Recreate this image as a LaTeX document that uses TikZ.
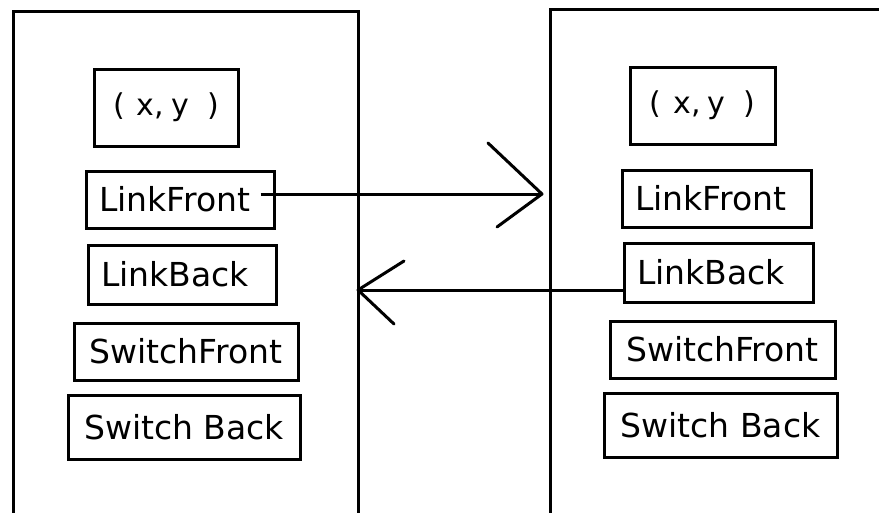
\documentclass[tikz,border=0pt]{standalone}
\usepackage{fontspec}
\setmainfont{DejaVu Sans}
\begin{document}
\begin{tikzpicture}[x=1pt,y=-1pt,line width=3pt,
  bigbox/.style={draw, line width=3pt, inner sep=0pt, anchor=north west},
  box/.style={draw, line width=3pt, inner sep=0pt, font=\fontsize{33}{38}\selectfont},
  lbox/.style={box, align=left, inner xsep=13pt, inner ysep=0pt},
  xybox/.style={box, font=\fontsize{30}{36}\selectfont},
  conn/.style={line width=3pt},
  head/.style={line width=3pt, line cap=round, line join=round}]
\useasboundingbox (0,0) rectangle (879,512);
\fill[white] (0,0) rectangle (879,512);
\begin{scope}
\clip (0,0) rectangle (879,512);
% big boxes
\node[bigbox, minimum width=345pt, minimum height=530pt] (L) at (12,10) {};
\node[bigbox, minimum width=345pt, minimum height=505.5pt] (R) at (549,7.5) {};
\end{scope}
% left inner boxes
\node[xybox, minimum width=144pt, minimum height=77pt] (XY1) at (166,107.5) {(\hspace{12pt}x,\hspace{7pt}y\hspace{18pt})};
\node[lbox, text width=162pt, minimum height=57pt] (LF1) at (180,199.5) {LinkFront};
\node[lbox, text width=162pt, minimum height=59pt] (LB1) at (182,274.5) {LinkBack};
\node[box, minimum width=224pt, minimum height=57pt] (SF1) at (186,351.5) {SwitchFront};
\node[box, minimum width=232pt, minimum height=64pt] (SB1) at (184,427) {Switch Back};
% right inner boxes
\node[xybox, minimum width=145pt, minimum height=77pt] (XY2) at (702.5,105.5) {(\hspace{12pt}x,\hspace{7pt}y\hspace{18pt})};
\node[lbox, text width=163pt, minimum height=57pt] (LF2) at (716.5,198.5) {LinkFront};
\node[lbox, text width=163pt, minimum height=59pt] (LB2) at (718.5,272.5) {LinkBack};
\node[box, minimum width=225pt, minimum height=57pt] (SF2) at (722.5,349.5) {SwitchFront};
\node[box, minimum width=233pt, minimum height=64pt] (SB2) at (720.5,425) {Switch Back};
% connectors
\coordinate (tipA) at (542,194);
\coordinate (tipB) at (358,290);
\draw[conn] ([xshift=-15pt,yshift=5.5pt]LF1.east) -- (tipA);
\draw[head] (488,143) -- (tipA) -- (497,227);
\draw[conn] ([yshift=-17.5pt]LB2.west) -- (tipB);
\draw[head] (404,261) -- (tipB) -- (394,324);
\end{tikzpicture}
\end{document}
